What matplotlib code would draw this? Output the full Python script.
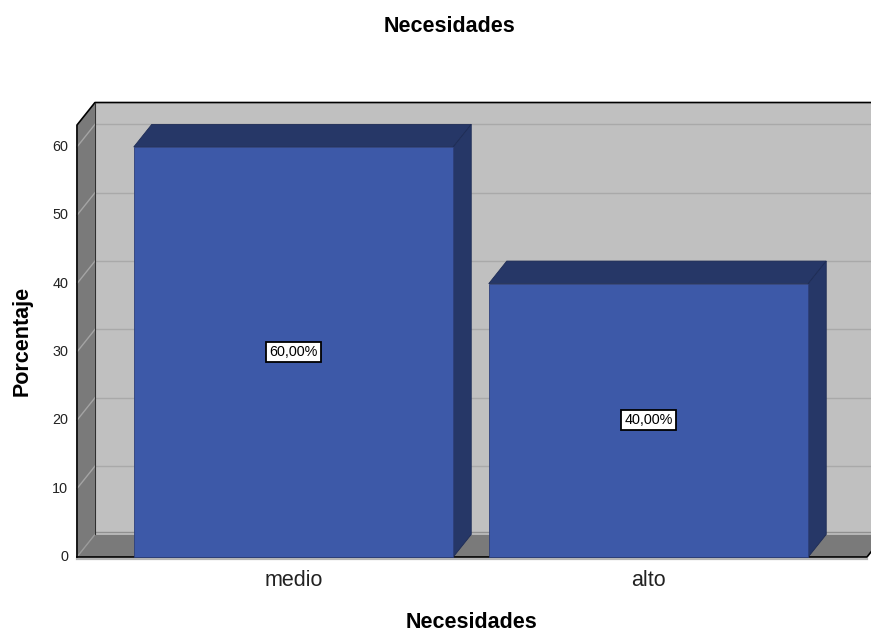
"""Bar chart of 'Necesidades' drawn in the boxed 3-D style of SPSS output."""

import matplotlib.pyplot as plt
from matplotlib.patches import Polygon, Rectangle

plt.rcParams["font.family"] = ["Liberation Sans", "DejaVu Sans"]

# -- data ----------------------------------------------------------------------
categories = ["medio", "alto"]
percentages = [60.0, 40.0]
y_ticks = [0, 10, 20, 30, 40, 50, 60]
title = "Necesidades"
x_label = "Necesidades"
y_label = "Porcentaje"

# -- look ------------------------------------------------------------------------
WALL = "#c0c0c0"
SIDE = "#7a7a7a"
GRID = "#a9a9a9"
FRONT = "#3d59a8"
DARK = "#263767"

BAR_W = 0.9            # bar width in category units
DX, DY = 0.0507, 3.3   # depth offset of the box (x in categories, y in %)
X0, X1 = -0.61, 1.6155  # front edges of the floor
Y_TOP = 63.2           # height of the walls

fig = plt.figure(figsize=(8.71, 6.33), dpi=100)
ax = fig.add_axes([0, 0, 1, 1])
ax.set_xlim(-0.8268, 1.6268)
ax.set_ylim(-11.12, 81.5)
ax.axis("off")


def poly(pts, fc, ec="none", lw=0.0, z=1):
    ax.add_patch(Polygon(pts, closed=True, facecolor=fc, edgecolor=ec,
                         linewidth=lw, zorder=z, joinstyle="miter"))


# back wall, left wall and floor
poly([(X0 + DX, DY), (X1 + DX, DY), (X1 + DX, Y_TOP + DY), (X0 + DX, Y_TOP + DY)], WALL)
poly([(X0, 0), (X0 + DX, DY), (X0 + DX, Y_TOP + DY), (X0, Y_TOP)], SIDE)
poly([(X0, 0), (X1, 0), (X1 + DX, DY), (X0 + DX, DY)], SIDE)
ax.plot([X0 + DX, X1 + DX], [DY + 0.4, DY + 0.4], color="#8f8f8f", lw=1.0, zorder=2)

# grid lines across the back wall and the left wall
for v in y_ticks[1:]:
    ax.plot([X0 + DX, X1 + DX], [v + DY, v + DY], color=GRID, lw=1.0, zorder=2)
    ax.plot([X0, X0 + DX], [v, v + DY], color="#a4a4a4", lw=1.0, zorder=2)
ax.plot([X0, X0 + DX], [0, DY], color="#9a9a9a", lw=1.0, zorder=2)

# box outline
ax.plot([X0, X0, X0 + DX, X1 + DX + 0.2], [0, Y_TOP, Y_TOP + DY, Y_TOP + DY],
        color="black", lw=1.2, zorder=3)
ax.plot([X0 + DX, X0 + DX], [DY, Y_TOP + DY], color="#303030", lw=0.8, zorder=3)
ax.plot([X0, X1], [-0.25, -0.25], color="#b5b5b5", lw=1.6, zorder=3)
ax.plot([X0, X1, X1 + DX], [0, 0, DY], color="black", lw=1.2, zorder=4)

# bars: top, side and front face
for i, (cat, v) in enumerate(zip(categories, percentages)):
    left, right = i - BAR_W / 2, i + BAR_W / 2
    poly([(left, v), (right, v), (right + DX, v + DY), (left + DX, v + DY)],
         DARK, "#1e2c55", 0.6, z=5)
    poly([(right, 0), (right + DX, DY), (right + DX, v + DY), (right, v)],
         DARK, "#1e2c55", 0.6, z=5)
    ax.add_patch(Rectangle((left, 0), BAR_W, v, facecolor=FRONT,
                           edgecolor="#2d3f7a", linewidth=0.6, zorder=6))
    ax.text(i, v / 2, f"{v:.2f}%".replace(".", ","), ha="center", va="center",
            fontsize=10.4, zorder=7,
            bbox=dict(boxstyle="square,pad=0.22", facecolor="white",
                      edgecolor="black", linewidth=1.3))
    ax.text(i, -3.5, cat, ha="center", va="center", fontsize=15.5,
            color="#222222", zorder=7)

# value axis labels
for v in y_ticks:
    ax.text(X0 - 0.025, v, str(v), ha="right", va="center", fontsize=10.4,
            color="#222222")

fig.text(449.5 / 871, 1 - 27 / 633, title, ha="center", va="center",
         fontsize=15.5, fontweight="bold")
fig.text(471.5 / 871, 1 - 623 / 633, x_label, ha="center", va="center",
         fontsize=15.5, fontweight="bold")
fig.text(21.7 / 871, 1 - 341 / 633, y_label, ha="center", va="center",
         rotation=90, fontsize=15.5, fontweight="bold")

fig.savefig("out.png", dpi=100)
